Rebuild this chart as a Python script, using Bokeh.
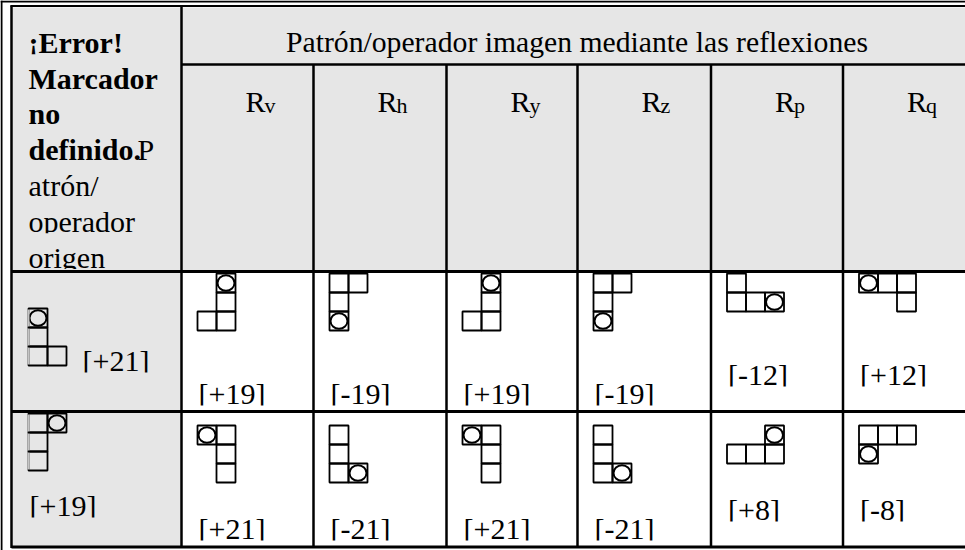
from bokeh.plotting import figure
from bokeh.models import Range1d, ColumnDataSource
from bokeh.core.properties import value
from bokeh.embed import file_html
from bokeh.resources import INLINE

# ---------------- data ----------------
header_title = "Patrón/operador imagen mediante las reflexiones"
corner_bold = ["¡Error!", "Marcador", "no", "definido."]
corner_tail = "P"
corner_plain = ["atrón/", "operador", "origen"]
reflection_letter = "R"
subscripts = ["v", "h", "y", "z", "p", "q"]

# shapes: 'X' = square, 'O' = square with circle, '.' = empty
origin_shapes = [["O.", "X.", "XX"],
                 ["XO", "X.", "X."]]
origin_values = ["[+21]", "[+19]"]
image_shapes = [
    [[".O", ".X", "XX"], ["XX", "X.", "O."], [".O", ".X", "XX"],
     ["XX", "X.", "O."], ["X..", "XXO"], ["OXX", "..X"]],
    [["OX", ".X", ".X"], ["X.", "X.", "XO"], ["OX", ".X", ".X"],
     ["X.", "X.", "XO"], ["..O", "XXX"], ["XXX", "O.."]],
]
image_values = [["[+19]", "[-19]", "[+19]", "[-19]", "[-12]", "[+12]"],
                ["[+21]", "[-21]", "[+21]", "[-21]", "[+8]", "[-8]"]]

# ---------------- layout ----------------
W, H = 965, 550
col_edges = [181, 313, 446, 577, 710.5, 842.5, 975]
head_mid = 64
row_edges = [271, 411, 546.5]
GRAY = "#e6e6e6"
S = 19
FONT = value("Liberation Serif")
FS = 30
K = 0.35  # baseline correction (fraction of font size)


def bl(y, fs=FS):
    return y - K * fs


p = figure(width=W, height=H, x_range=Range1d(0, W), y_range=Range1d(H, 0),
           output_backend="svg", toolbar_location=None, min_border=0)
p.axis.visible = False
p.grid.visible = False
p.outline_line_color = None
p.background_fill_color = "white"
p.border_fill_color = "white"

# backgrounds
p.quad(left=[12, 12], right=[W, col_edges[0]], top=[7, row_edges[0]],
       bottom=[row_edges[0], row_edges[2]], fill_color=GRAY, line_color=None)

# corner header text
base0, step = 52.3, 35.8
nb = len(corner_bold)
ncl = nb + len(corner_plain)
line_y = [base0 + i * step for i in range(ncl)]
p.text(x=[28] * nb, y=[bl(v) for v in line_y[:nb]], text=corner_bold,
       text_font=FONT, text_font_size=f"{FS}px", text_font_style="bold",
       text_align="left", text_baseline="alphabetic", text_color="black")
p.text(x=[137] + [28] * len(corner_plain),
       y=[bl(line_y[nb - 1])] + [bl(v) for v in line_y[nb:]],
       text=[corner_tail] + corner_plain, text_font=FONT, text_font_size=f"{FS}px",
       text_align="left", text_baseline="alphabetic", text_color="black")
p.quad(left=[13] * ncl, right=[col_edges[0] - 2] * ncl,
       top=[y + 1.5 for y in line_y], bottom=[y + 10 for y in line_y],
       fill_color=GRAY, line_color=None)

# title across columns
p.text(x=[(col_edges[0] + col_edges[-1]) / 2 - 1.5], y=[bl(52, 29.7)], text=[header_title],
       text_font=FONT, text_font_size="29.7px", text_align="center",
       text_baseline="alphabetic", text_color="black")

# reflection headers
p.text(x=[e + 64 for e in col_edges[:-1]], y=[bl(111)] * 6, text=[reflection_letter] * 6,
       text_font=FONT, text_font_size=f"{FS}px", text_align="left",
       text_baseline="alphabetic", text_color="black")
p.text(x=[e + 83 for e in col_edges[:-1]], y=[bl(113, 22)] * 6, text=subscripts,
       text_font=FONT, text_font_size="22px", text_align="left",
       text_baseline="alphabetic", text_color="black")

# ---------------- shapes ----------------
sq = dict(l=[], r=[], t=[], b=[])
circ = dict(x=[], y=[])
faint = dict(x0=[], y0=[], x1=[], y1=[])


def add_shape(shape, x0, y0, origin=False):
    for ri, row in enumerate(shape):
        for ci, ch in enumerate(row):
            if ch == ".":
                continue
            l, t = x0 + ci * S, y0 + ri * S
            sq["l"].append(l); sq["r"].append(l + S)
            sq["t"].append(t); sq["b"].append(t + S)
            if ch == "O":
                circ["x"].append(l + S / 2); circ["y"].append(t + S / 2)
            if origin and ci == 0:
                faint["x0"].append(l); faint["x1"].append(l)
                faint["y0"].append(t + 1); faint["y1"].append(t + S - 1)


labels = dict(x=[], y=[], text=[], bg=[])
origin_tops = [308, 413]
origin_label_pos = [(82, 370), (29, 515)]
image_tops = [273, 425]
label_gap = [73, 56]

for r in range(2):
    add_shape(origin_shapes[r], 28, origin_tops[r], origin=True)
    lx, ly = origin_label_pos[r]
    labels["x"].append(lx); labels["y"].append(ly)
    labels["text"].append(origin_values[r]); labels["bg"].append(GRAY)
    for c in range(6):
        shp = image_shapes[r][c]
        x0 = col_edges[c] + 16
        add_shape(shp, x0, image_tops[r])
        labels["x"].append(col_edges[c] + 17)
        labels["y"].append(image_tops[r] + len(shp) * S + label_gap[r])
        labels["text"].append(image_values[r][c]); labels["bg"].append("white")

p.quad(left=sq["l"], right=sq["r"], top=sq["t"], bottom=sq["b"],
       fill_color=None, line_color="black", line_width=1.8)
p.ellipse(x=circ["x"], y=circ["y"], width=17, height=15.5,
          fill_color=None, line_color="black", line_width=2)
p.segment(x0=faint["x0"], y0=faint["y0"], x1=faint["x1"], y1=faint["y1"],
          line_color="#c4c4c4", line_width=2)

lsrc = ColumnDataSource(dict(x=labels["x"], y=[bl(v) for v in labels["y"]], text=labels["text"]))
p.text(x="x", y="y", text="text", source=lsrc, text_font=FONT, text_font_size=f"{FS}px",
       text_align="left", text_baseline="alphabetic", text_color="black")
lb = ColumnDataSource(dict(l=[x - 2 for x in labels["x"]], r=[x + 72 for x in labels["x"]],
                           t=[y + 2 for y in labels["y"]], b=[y + 7 for y in labels["y"]],
                           bg=labels["bg"]))
p.quad(left="l", right="r", top="t", bottom="b", fill_color="bg", line_color=None, source=lb)

# ---------------- rules ----------------
seg = dict(x0=[], y0=[], x1=[], y1=[], lw=[])


def add_seg(a, b, c, d, w):
    seg["x0"].append(a); seg["y0"].append(b); seg["x1"].append(c); seg["y1"].append(d)
    seg["lw"].append(w)


add_seg(0, 1, W, 1, 2)
add_seg(10, 5.5, W, 5.5, 2.2)
add_seg(1, 0, 1, H, 2)
add_seg(11, 5, 11, 547.5, 2.5)
add_seg(col_edges[0], head_mid, W, head_mid, 2.5)
for y in row_edges:
    add_seg(11, y, W, y, 3)
add_seg(col_edges[0], 5.5, col_edges[0], 547.5, 2.5)
for x in col_edges[1:-1]:
    add_seg(x, head_mid, x, 547.5, 2.5)

p.segment(x0="x0", y0="y0", x1="x1", y1="y1", line_width="lw", line_color="black",
          source=ColumnDataSource(seg))

open("out.html", "w").write(file_html(p, INLINE))
